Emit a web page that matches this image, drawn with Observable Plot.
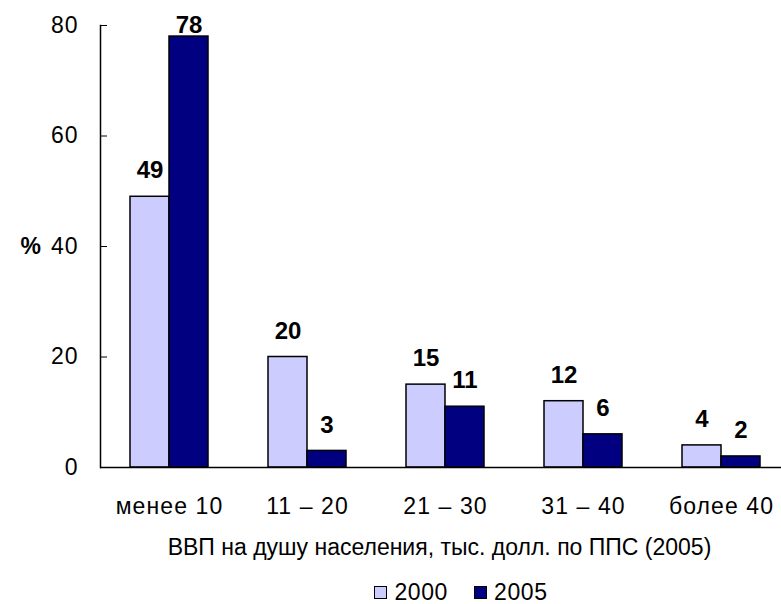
<!DOCTYPE html>
<html><head><meta charset="utf-8">
<script src="https://cdn.jsdelivr.net/npm/d3@7"></script>
<script src="https://cdn.jsdelivr.net/npm/@observablehq/plot@0.6"></script>
<style>
body{margin:0;background:#fff;font-family:"Liberation Sans",Arial,sans-serif;}
#legend{display:flex;justify-content:center;align-items:center;height:24px;padding-top:15px;padding-left:141px;font-size:23px;color:#000;letter-spacing:0.6px}
.sw{display:inline-block;width:11px;height:11px;border:1px solid #000;margin-right:7px}
.item{display:flex;align-items:center;margin:0 13px}
</style></head>
<body><div id="chart"></div>
<script>
const categories = ["менее 10", "11 – 20", "21 – 30", "31 – 40", "более 40"];
const values2000 = [49, 20, 15, 12, 4];
const values2005 = [78, 3, 11, 6, 2];
const series = ["2000", "2005"];
const colors = ["#ccccff", "#000080"];
const yTicks = [0, 20, 40, 60, 80];
const xTitle = "ВВП на душу населения, тыс. долл. по ППС (2005)";
const yTitle = "%";

const d2000 = categories.map((c, i) => ({cat: c, value: values2000[i]}));
const d2005 = categories.map((c, i) => ({cat: c, value: values2005[i]}));
const labelY = d => Math.min(d.value, 75.3);
const fs = 23;

const chart = Plot.plot({
  width: 781, height: 565,
  marginLeft: 100, marginRight: -9, marginTop: 25, marginBottom: 98,
  style: {fontFamily: '"Liberation Sans", Arial, sans-serif', fontSize: fs + "px", color: "#000", background: "#fff"},
  x: {domain: categories, paddingInner: 0.4348, paddingOuter: 0.2174, label: null},
  y: {domain: [0, 80], label: null},
  marks: [
    Plot.barY(d2000, {x: "cat", y: "value", fill: colors[0], stroke: "#000", strokeWidth: 1.5, insetRight: 39}),
    Plot.barY(d2005, {x: "cat", y: "value", fill: colors[1], stroke: "#000", strokeWidth: 1.5, insetLeft: 39}),
    Plot.text(d2000, {x: "cat", y: labelY, text: d => String(d.value), dx: -19.5, dy: -26, fontWeight: "bold", fontSize: fs + 1}),
    Plot.text(d2005, {x: "cat", y: labelY, text: d => String(d.value), dx: 19.5, dy: -26, fontWeight: "bold", fontSize: fs + 1}),
    Plot.axisY({ticks: yTicks, tickSize: -7, tickPadding: 29, fontSize: fs, label: null}),
    Plot.axisX({tickSize: 0, tickPadding: 30, fontSize: fs, label: null}),
    Plot.frame({anchor: "left", strokeWidth: 1.5}),
    Plot.ruleY([0], {strokeWidth: 1.5}),
    Plot.text([yTitle], {frameAnchor: "left", dx: -80, y: 40, fontWeight: "bold", fontSize: fs}),
    Plot.text([xTitle], {frameAnchor: "bottom", dy: 87, dx: -6, fontSize: fs})
  ]
});
d3.select(chart).selectAll('[aria-label="x-axis tick label"] text').attr("letter-spacing", "1.1px");
d3.select(chart).selectAll('[aria-label="y-axis tick label"] text').attr("letter-spacing", "1px");
document.getElementById("chart").appendChild(chart);

const legend = document.createElement("div");
legend.id = "legend";
series.forEach((s, i) => {
  const it = document.createElement("span");
  it.className = "item";
  const sw = document.createElement("span");
  sw.className = "sw";
  sw.style.background = colors[i];
  it.appendChild(sw);
  it.appendChild(document.createTextNode(s));
  legend.appendChild(it);
});
document.getElementById("chart").appendChild(legend);
</script></body></html>
